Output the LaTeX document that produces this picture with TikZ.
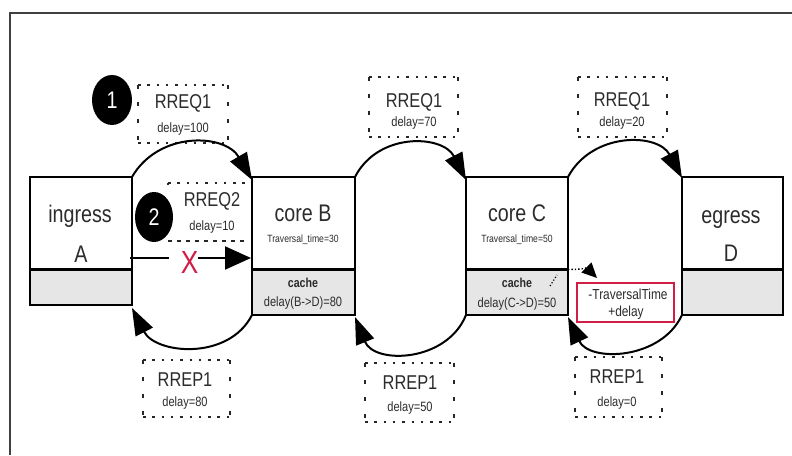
\documentclass[tikz,border=0pt]{standalone}
\usepackage{fontspec}
\setmainfont{Liberation Sans}[FakeStretch=0.82]
\usetikzlibrary{arrows.meta,shapes.geometric}

\definecolor{txt}{HTML}{2B2B2B}
\definecolor{cachegrey}{HTML}{E6E6E6}
\definecolor{alertred}{HTML}{D21E46}
\newcommand\fs[1]{\fontsize{#1}{#1}\selectfont}

% four dotted sides around an (invisible) message node
\newcommand\dotframe[1]{%
  \draw[hdots] (#1.north west) -- (#1.north east);
  \draw[hdots] (#1.south west) -- (#1.south east);
  \draw[vdots] (#1.north west) -- (#1.south west);
  \draw[vdots] (#1.north east) -- (#1.south east);
}

\tikzset{
  x=1pt, y=1pt,
  frameline/.style={draw=black!75, line width=2pt},
  upperbox/.style={draw=black, line width=1.6pt, minimum height=92.5pt,
    minimum width=#1, inner sep=0pt, outer sep=0pt},
  cachebox/.style={draw=black, line width=1.6pt, fill=cachegrey,
    minimum width=#1, inner sep=0pt, outer sep=0pt},
  divider/.style={draw=black, line width=2.4pt},
  msgbox/.style={minimum width=#1, inner sep=0pt, outer sep=0pt},
  hdots/.style={draw=black!85, line width=2.5pt, dash pattern=on 2.5pt off 6.8pt},
  vdots/.style={draw=black!85, line width=2.2pt, dash pattern=on 4pt off 13pt},
  bigtxt/.style={font=\fs{24}, text=txt, inner sep=0pt},
  msgtxt/.style={font=\fs{20}, text=txt, inner sep=0pt},
  delaytxt/.style={font=\fs{13.5}, text=txt, inner sep=0pt},
  tinytxt/.style={font=\fs{10.5}, text=txt, inner sep=0pt},
  cachetxt/.style={font=\bfseries\fs{13}, text=txt, inner sep=0pt},
  redtxt/.style={font=\fs{14.5}, text=txt, inner sep=0pt},
  hop/.style={draw=black, line width=2pt,
    -{Triangle[length=27pt,width=19pt]}},
  stepnum/.style={ellipse, fill=black, text=white, font=\fs{24},
    minimum width=40pt, minimum height=50pt, inner sep=0pt},
}

\begin{document}
\begin{tikzpicture}
\useasboundingbox (0,0) rectangle (792,455);

% outer frame (top and left edges)
\draw[frameline] (792,442) -- (9.5,442) -- (9.5,0);

% ---- message labels (dotted frames) ----
\node[msgbox=90pt, minimum height=58pt] (q1) at (183,341) {};
\node[msgbox=89pt, minimum height=60pt] (q2) at (413.5,348) {};
\node[msgbox=89pt, minimum height=60pt] (q3) at (622.5,348) {};
\node[msgbox=87pt, minimum height=57pt] (p1) at (186.5,66.5) {};
\node[msgbox=89pt, minimum height=59pt] (p2) at (409.5,62.5) {};
\node[msgbox=87pt, minimum height=60pt] (p3) at (618.5,68) {};
\dotframe{q1}\dotframe{q2}\dotframe{q3}
\dotframe{p1}\dotframe{p2}\dotframe{p3}

\node[msgtxt] (q1a) at (183,351.5) {RREQ1};
\node[delaytxt] (q1b) at (183,326) {delay=100};
\node[msgtxt] (q2a) at (414,353) {RREQ1};
\node[delaytxt] (q2b) at (414,332) {delay=70};
\node[msgtxt] (q3a) at (622,354) {RREQ1};
\node[delaytxt] (q3b) at (622,332) {delay=20};
\node[msgtxt] (p1a) at (185,75) {RREP1};
\node[delaytxt] (p1b) at (185,52) {delay=80};
\node[msgtxt] (p2a) at (410,72) {RREP1};
\node[delaytxt] (p2b) at (410,47) {delay=50};
\node[msgtxt] (p3a) at (617,78) {RREP1};
\node[delaytxt] (p3b) at (617,52) {delay=0};

% second request, partly hidden
\coordinate (r2tl) at (168,272);
\coordinate (r2tr) at (250,272);
\coordinate (r2bl) at (168,214);
\coordinate (r2br) at (245,214);
\coordinate (r2side) at (168,264);
\draw[hdots] (r2tl) -- (r2tr);
\draw[hdots] (r2tl) -- (r2side);
\draw[draw=black!85, line width=1.6pt, dash pattern=on 4pt off 5pt] (r2bl) -- (r2br);
\node[msgtxt] (q4a) at (212,254) {RREQ2};
\node[delaytxt] (q4b) at (212,228) {delay=10};

% ---- nodes: upper part and cache part ----
\node[upperbox=102pt] (A) at (81,231.75) {};
\node[upperbox=103pt] (B) at (303.5,231.75) {};
\node[upperbox=102pt] (C) at (517,231.75) {};
\node[upperbox=101pt] (D) at (732.5,231.75) {};
\node[cachebox=102pt, minimum height=35.5pt] (Ac) at (81,167.75) {};
\node[cachebox=103pt, minimum height=45.5pt] (Bc) at (303.5,162.75) {};
\node[cachebox=102pt, minimum height=45.5pt] (Cc) at (517,162.75) {};
\node[cachebox=101pt, minimum height=45.5pt] (Dc) at (732.5,162.75) {};
\draw[divider] (A.south west) -- (A.south east);
\draw[divider] (B.south west) -- (B.south east);
\draw[divider] (C.south west) -- (C.south east);
\draw[divider] (D.south west) -- (D.south east);

\node[bigtxt, anchor=base] (A1) at (80,232) {ingress};
\node[bigtxt, anchor=base] (A2) at (81,192) {A};
\node[bigtxt, anchor=base] (B1) at (303,233) {core B};
\node[tinytxt] (B2) at (303,215) {Traversal\_time=30};
\node[cachetxt] (B3) at (303,172) {cache};
\node[delaytxt] (B4) at (303,152) {delay(B->D)=80};
\node[bigtxt, anchor=base] (C1) at (517,233) {core C};
\node[tinytxt] (C2) at (517,215) {Traversal\_time=50};
\node[cachetxt] (C3) at (517,172) {cache};
\node[delaytxt] (C4) at (517,151) {delay(C->D)=50};
\node[bigtxt, anchor=base] (D1) at (731,231) {egress};
\node[bigtxt, anchor=base] (D2) at (731,193) {D};

% ---- request hops (top) and reply hops (bottom) ----
\draw[hop] (A.north east) to[out=60,in=120,looseness=1.14] ([yshift=-3pt]B.north west);
\draw[hop] (B.north east) to[out=63,in=117,looseness=1.17] ([yshift=-3pt]C.north west);
\draw[hop] (C.north east) to[out=62,in=118,looseness=1.15] ([yshift=-1pt]D.north west);
\draw[hop] (Bc.south west) to[out=-117,in=-63,looseness=1.1] ([yshift=-3pt]Ac.south east);
\draw[hop] (Cc.south west) to[out=-112,in=-68,looseness=1.18] ([yshift=-2pt]Bc.south east);
\draw[hop] (Dc.south west) to[out=-115,in=-65,looseness=1.12] ([yshift=-2pt]Cc.south east);

% ---- blocked direct request ----
\coordinate (sendA) at (130,197);
\coordinate (gapL) at (169,197);
\coordinate (gapR) at (198,197);
\coordinate (sendB) at (251,197);
\draw[black, line width=2pt] (sendA) -- (gapL);
\draw[black, line width=2pt, -{Triangle[length=26pt,width=23pt]}] (gapR) -- (sendB);
\node[font=\fs{32}, text=alertred, inner sep=0pt] (cross) at (189.5,193) {X};

% ---- step markers ----
\node[stepnum] (s1) at (112,355) {1};
\node[stepnum, minimum width=38pt] (s2) at (154,238) {2};

% ---- cache update ----
\node[draw=alertred, line width=2pt, fill=white, minimum width=97pt,
  minimum height=39pt, inner sep=0pt] (upd) at (625.5,152.5) {};
\node[redtxt] (upd1) at (628,161) {-TraversalTime};
\node[redtxt] (upd2) at (626,142) {+delay};
\coordinate (updtip) at ([xshift=21pt,yshift=4pt]upd.north west);
\draw[black, line width=1.4pt, dotted, -{Triangle[length=15pt,width=14pt]}]
  (C.south east) to[out=0,in=135,looseness=1.2] (updtip);
\coordinate (tickA) at (550,169);
\coordinate (tickB) at (557,180);
\draw[black, line width=1.2pt, dotted] (tickA) -- (tickB);

\end{tikzpicture}
\end{document}
